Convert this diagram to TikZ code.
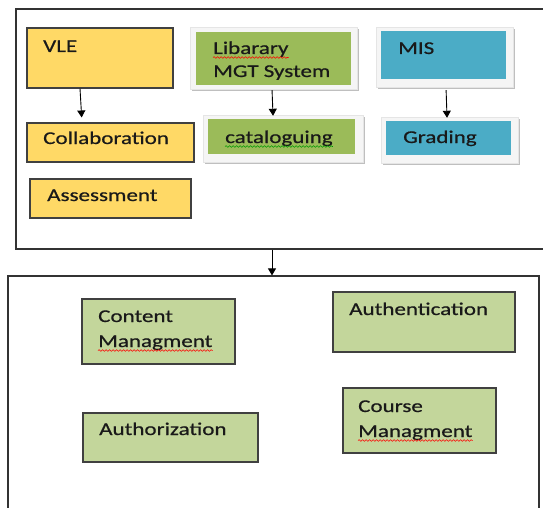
\documentclass[tikz,border=0pt]{standalone}
\usepackage{fontspec}
\setmainfont[FakeStretch=1.28,FakeBold=0.6]{Carlito}
\usetikzlibrary{arrows.meta,shadows,decorations.pathmorphing,calc}
\definecolor{yfill}{HTML}{FFD966}
\definecolor{gfill}{HTML}{9BBB59}
\definecolor{bfill}{HTML}{4BACC6}
\definecolor{lgfill}{HTML}{C3D69B}
\definecolor{edge}{HTML}{404040}
\begin{document}
\begin{tikzpicture}[x=1pt,y=-1pt,
  frame/.style={draw=black!80, line width=1.2pt, rectangle, inner sep=0pt},
  plainbox/.style={draw=edge, line width=1.1pt, rectangle, inner sep=0pt},
  ybox/.style={plainbox, fill=yfill},
  lgbox/.style={plainbox, fill=lgfill},
  shbox/.style={rectangle, inner sep=0pt, fill=gray!8, draw=gray!20, line width=0.4pt,
    drop shadow={shadow xshift=2pt, shadow yshift=-2pt, fill=gray!50, opacity=1}},
  inbox/.style={rectangle, inner sep=0pt, draw=none},
  txt/.style={anchor=base west, inner sep=0pt, font=\fontsize{18}{22}\selectfont, text=black!90},
  arr/.style={-{Triangle[length=7pt,width=8pt]}, line width=0.9pt, black},
  wave/.style={decorate, decoration={snake, amplitude=0.8pt, segment length=3.5pt}, line width=0.6pt}
]
\useasboundingbox (0,0) rectangle (543,508);
\clip (0,0) rectangle (543,508);
\fill[white] (0,0) rectangle (543,508);

% outer frames
\node[frame, minimum width=529pt, minimum height=240pt] (top) at (280.5,129) {};
\node[frame, minimum width=531pt, minimum height=260pt] (bot) at (273.5,406) {};

% top left: VLE group
\node[ybox, minimum width=146pt, minimum height=60pt] (vle) at (100,58) {};
\node[ybox, minimum width=167pt, minimum height=39pt] (collab) at (110.5,142.5) {};
\node[ybox, minimum width=161pt, minimum height=39pt] (assess) at (110.5,198.5) {};
\node[txt] (tvle) at (43,52) {VLE};
\node[txt] (tcollab) at (43,144) {Collaboration};
\node[txt] (tassess) at (47,201) {Assessment};

% library group
\node[shbox, minimum width=167pt, minimum height=62pt] (lib) at (273.5,58) {};
\node[inbox, fill=gfill, minimum width=155pt, minimum height=53pt] (libin) at (273.5,58.5) {};
\node[shbox, minimum width=160pt, minimum height=47pt] (cat) at (283,138.5) {};
\node[inbox, fill=gfill, minimum width=147pt, minimum height=35pt] (catin) at (281.5,136.5) {};
\node[txt] (tlib1) at (213,54) {Libarary};
\node[txt] (tlib2) at (213,77) {MGT System};
\node[txt] (tcat) at (225,143) {cataloguing};

% MIS group
\node[shbox, minimum width=137pt, minimum height=60pt] (mis) at (444.5,57) {};
\node[inbox, fill=bfill, minimum width=125pt, minimum height=48pt] (misin) at (443.5,55) {};
\node[shbox, minimum width=137pt, minimum height=46pt] (grad) at (449.5,140) {};
\node[inbox, fill=bfill, minimum width=125pt, minimum height=34pt] (gradin) at (448.5,138) {};
\node[txt] (tmis) at (398,54) {MIS};
\node[txt] (tgrad) at (403,143) {Grading};

% bottom boxes
\node[lgbox, minimum width=153pt, minimum height=65pt] (content) at (158.5,331.5) {};
\node[lgbox, minimum width=175pt, minimum height=49pt] (authz) at (170.5,437.5) {};
\node[lgbox, minimum width=182pt, minimum height=60pt] (authn) at (424,322) {};
\node[lgbox, minimum width=153pt, minimum height=65pt] (course) at (419.5,420.5) {};
\node[txt] (tcont1) at (98,322) {Content};
\node[txt] (tcont2) at (98,347) {Managment};
\node[txt] (tauthz) at (99,435) {Authorization};
\node[txt] (tauthn) at (349,315) {Authentication};
\node[txt] (tcourse1) at (358,412) {Course};
\node[txt] (tcourse2) at (358,437) {Managment};

% spell-check underlines
\draw[wave, red] ($(tlib1.base west)+(0,3.5)$) -- ($(tlib1.base east)+(0,3.5)$);
\draw[wave, green!60!black] ($(tcat.base west)+(0,3.5)$) -- ($(tcat.base east)+(0,3.5)$);
\draw[wave, red] ($(tcont2.base west)+(0,3.5)$) -- ($(tcont2.base east)+(0,3.5)$);
\draw[wave, red] ($(tcourse2.base west)+(0,3.5)$) -- ($(tcourse2.base east)+(0,3.5)$);

% arrows
\draw[arr, shorten >=5pt] ([xshift=-20pt]vle.south) -- ([xshift=-28.5pt]collab.north);
\draw[arr, shorten <=1pt, shorten >=-1pt] ([xshift=-1.5pt]lib.south) -- ([xshift=-10pt]cat.north);
\draw[arr, shorten <=3pt, shorten >=-1pt] ([xshift=1.5pt]mis.south) -- ([xshift=-2.5pt]grad.north);
\draw[arr] ([xshift=-8.5pt]top.south) -- ([xshift=-1.5pt]bot.north);
\end{tikzpicture}
\end{document}
